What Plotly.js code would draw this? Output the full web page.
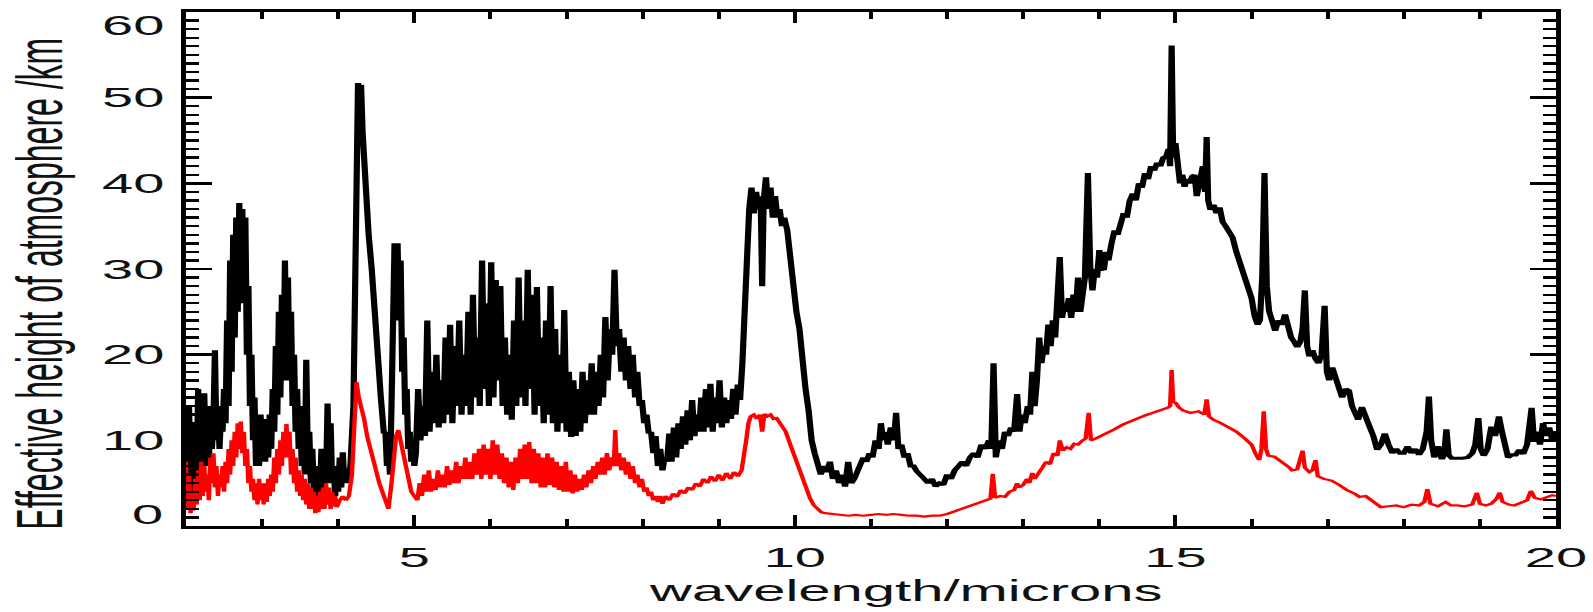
<!DOCTYPE html>
<html>
<head>
<meta charset="utf-8">
<script src="https://cdn.plot.ly/plotly-3.0.1.min.js"></script>
<style>
  html, body { margin: 0; padding: 0; background: #fff; overflow: hidden; }
  /* the figure is laid out at half width and widened 2x, which gives the
     wide, stretched lettering and thick vertical strokes of the original plot */
  #chart { width: 797px; height: 612px; transform: scaleX(2); transform-origin: 0 0; }
</style>
</head>
<body>
<div id="chart"></div>
<script>
// Black spectrum (upper curve): wavelength in microns, effective height in km
const waveBlack = [
  2.00,2.02,2.04,2.06,2.08,2.10,2.12,2.14,2.16,2.18,2.20,2.22,2.24,2.26,2.28,2.30,2.32,2.34,2.36,2.38,
  2.40,2.42,2.44,2.46,2.48,2.50,2.52,2.54,2.56,2.58,2.60,2.62,2.64,2.66,2.68,2.70,2.72,2.74,2.76,2.78,
  2.80,2.82,2.84,2.86,2.88,2.90,2.92,2.94,2.96,2.98,3.00,3.02,3.04,3.06,3.08,3.10,3.12,3.14,3.16,3.18,
  3.20,3.22,3.24,3.26,3.28,3.30,3.32,3.34,3.36,3.38,3.40,3.42,3.44,3.46,3.48,3.50,3.52,3.54,3.56,3.58,
  3.60,3.62,3.64,3.66,3.68,3.70,3.72,3.74,3.76,3.78,3.80,3.82,3.84,3.86,3.88,3.90,3.92,3.94,3.96,3.98,
  4.00,4.02,4.04,4.06,4.08,4.10,4.12,4.16,4.20,4.22,4.24,4.26,4.28,4.30,4.32,4.34,4.37,4.40,4.44,4.48,
  4.52,4.56,4.60,4.62,4.64,4.66,4.68,4.70,4.72,4.74,4.76,4.78,4.80,4.82,4.84,4.86,4.88,4.90,4.92,4.94,
  4.96,4.98,5.00,5.02,5.05,5.08,5.11,5.14,5.17,5.20,5.23,5.26,5.29,5.32,5.35,5.38,5.41,5.44,5.47,5.50,
  5.53,5.56,5.59,5.62,5.65,5.68,5.71,5.74,5.77,5.80,5.83,5.86,5.89,5.92,5.95,5.98,6.01,6.04,6.07,6.10,
  6.13,6.16,6.19,6.22,6.25,6.28,6.31,6.34,6.37,6.40,6.43,6.46,6.49,6.52,6.55,6.58,6.61,6.64,6.67,6.70,
  6.73,6.76,6.79,6.82,6.85,6.88,6.91,6.94,6.97,7.00,7.03,7.06,7.09,7.12,7.15,7.18,7.21,7.24,7.27,7.30,
  7.33,7.36,7.39,7.42,7.45,7.48,7.51,7.54,7.57,7.60,7.63,7.66,7.69,7.72,7.75,7.78,7.81,7.84,7.87,7.90,
  7.93,7.96,7.99,8.02,8.05,8.08,8.11,8.14,8.17,8.20,8.23,8.26,8.29,8.32,8.35,8.38,8.41,8.44,8.47,8.50,
  8.53,8.56,8.59,8.62,8.65,8.68,8.71,8.74,8.77,8.80,8.83,8.86,8.89,8.92,8.95,8.98,9.01,9.04,9.07,9.10,
  9.13,9.16,9.19,9.22,9.25,9.28,9.31,9.34,9.37,9.40,9.43,9.46,9.49,9.52,9.55,9.57,9.59,9.62,9.65,9.68,
  9.71,9.74,9.77,9.80,9.83,9.86,9.90,9.94,9.98,10.02,10.06,10.10,10.14,10.18,10.22,10.26,10.30,10.34,10.38,10.42,
  10.46,10.50,10.54,10.58,10.62,10.66,10.70,10.74,10.78,10.82,10.86,10.90,10.94,10.98,11.02,11.06,11.10,11.13,11.16,11.19,
  11.22,11.26,11.30,11.33,11.36,11.40,11.44,11.48,11.52,11.56,11.60,11.65,11.70,11.75,11.80,11.85,11.90,11.95,12.00,12.05,
  12.10,12.15,12.20,12.25,12.30,12.35,12.40,12.45,12.50,12.55,12.58,12.61,12.64,12.68,12.72,12.76,12.80,12.84,12.88,12.92,
  12.95,12.98,13.02,13.06,13.09,13.12,13.15,13.18,13.21,13.24,13.27,13.30,13.33,13.36,13.39,13.42,13.45,13.48,13.51,13.54,
  13.57,13.60,13.63,13.66,13.69,13.72,13.75,13.78,13.81,13.85,13.88,13.91,13.94,13.97,14.00,14.03,14.06,14.09,14.12,14.16,
  14.20,14.24,14.28,14.32,14.36,14.40,14.44,14.48,14.52,14.56,14.60,14.64,14.68,14.72,14.76,14.80,14.84,14.88,14.91,14.93,
  14.95,14.97,15.00,15.03,15.06,15.09,15.12,15.15,15.18,15.22,15.25,15.28,15.32,15.36,15.39,15.41,15.43,15.46,15.50,15.54,
  15.58,15.62,15.66,15.70,15.75,15.80,15.85,15.90,15.95,16.00,16.04,16.08,16.11,16.14,16.17,16.20,16.23,16.27,16.31,16.35,
  16.40,16.44,16.48,16.52,16.56,16.60,16.64,16.67,16.70,16.73,16.76,16.80,16.84,16.88,16.92,16.96,16.99,17.02,17.06,17.10,
  17.14,17.19,17.24,17.28,17.32,17.36,17.40,17.45,17.50,17.55,17.60,17.65,17.70,17.75,17.80,17.85,17.90,17.95,18.00,18.05,
  18.10,18.15,18.20,18.25,18.30,18.33,18.36,18.40,18.45,18.50,18.53,18.56,18.59,18.63,18.70,18.77,18.84,18.90,18.94,18.98,
  19.01,19.05,19.10,19.15,19.20,19.25,19.29,19.33,19.37,19.42,19.47,19.52,19.57,19.62,19.65,19.68,19.71,19.75,19.79,19.83,
  19.87,19.91,19.95,20.00
];
const heightBlack = [
  8,4,14,5,9,3.5,12,6,16,7,10,5,15.5,8,12,7,14,9,12,20.5,
  10,14,9,13,11,16,12,24,14,31,18,34,22,36,25,37.7,28,37,26,36,
  20,28,14,20,10,15,7,12,7,13,8,12.5,7.5,12,8,13,9,16,11,21,
  13,25,15,27,17,31,19,29,17,25,14,20,11,16,9,14,7,12,6,19.4,
  8,11,5,9,4,7,3,6,4,9,4,9,5,14.3,6,12,5,7,3.5,6,
  4,8,4.5,8.6,5,6,5,7,14,30,45,51.7,48,51.5,46,42,38,34,30,26,
  20,15,10.8,11,7,9,6,14,25,33,28,33,24,31,18,22,13,16,9,11,
  7.5,9,7,8.5,16,10,14,10.5,24,11,18,12,20,11.5,17,12,22,13,23.5,12,
  21,14,24,13,20,14,25,13,27,15,22,14,31,16,26,14,30.8,15,28.7,17,
  28,14,22,13,20,12.4,24,14,29,15,24,14,29.9,16,27,13,27.9,14,22,12,
  24,13,28,12,23,11,20,12,25.2,11,18,10.4,17,10.5,16,11,18,12,17,13,
  19,13,18,14,20,15,24.4,17,23,20,29.9,21,23,18,22,17,21,16,20,15,
  18,14,14.7,12,13,10.8,11,8.5,10.5,7,9,6.5,8,7.5,10.8,7.5,11.5,8,12,9,
  12.8,9.5,13.5,10,14.7,10.5,13,11,15,11,16,11.5,16.6,11,15,12,17,11.5,15,12,
  14.7,12.5,16,13,16.5,14.7,19,26,32,37,39.5,36.5,39,37,38.5,28,38,40.7,37,39.5,
  36,38.5,36,37,35,36,34.5,31,27,25,23,19,16,13.5,10,8.5,7,6,7,6.3,
  7.5,5.5,6.5,5,6,4.6,7.5,5,5.5,6.5,7,8,7.5,8.5,8,10,9,12,10,11,
  9.5,11.5,10,13.2,9,9.5,8,8.5,7,7,6.4,6,5.5,5,5.5,4.6,5,4.8,6,5.5,
  6.5,7,7.5,7,8,8.5,8,9.5,9,10,9,19,8,10,9,11,10.5,11.5,11,15.4,
  11,13,12,14,13,18,14,17,22,19,21,20,23.5,21,24,22,26,31.4,24.3,26,
  25,26.6,24.3,27,25,29,25,27,29,41.2,30.3,27.5,30,29,32.2,30,29.9,32,31,33,
  34.5,34,35.5,36.5,36,38,38.8,38,40,39.5,41.2,40.5,42,41.5,42.4,42,43,43.2,44,42,
  56.1,43,44.7,41.6,40,41,39.6,40.5,40,40.8,41,38.5,40,42,39,45.4,38,36.9,37.5,36.5,
  37.2,35.5,35,34.5,33.7,32,30.6,29,27.5,26.6,24.5,23.5,24,29,41.2,28,25.1,24,22.8,24,
  23.5,24.7,23,22,21.5,20.9,21.5,23,27.5,21,19.8,20.5,19.5,19,20,25.7,18,17,18.5,17.5,
  16,15,16,15.8,14,13,12.4,13.9,12.5,11.6,10.5,8.9,9.5,10.8,9.5,8.5,9,8.5,8.5,9.3,
  8.5,9,8.3,9,11,15.1,10,8,9.3,7.8,8.3,11.3,8.3,7.9,7.9,7.9,8,8.5,9.5,12.6,
  9,8.2,9,11.6,10.5,12.8,11,9,8,8.3,8.3,8.9,8.4,9.5,12,13.8,10,11,9.5,12,
  10.5,11.5,10,11
];

// Red spectrum (lower curve)
const waveRed = [
  2.00,2.02,2.04,2.06,2.08,2.10,2.12,2.14,2.16,2.18,2.20,2.22,2.24,2.26,2.28,2.30,2.32,2.34,2.36,2.38,
  2.40,2.42,2.44,2.46,2.48,2.50,2.52,2.54,2.56,2.58,2.60,2.62,2.64,2.66,2.68,2.70,2.72,2.74,2.76,2.78,
  2.80,2.82,2.84,2.86,2.88,2.90,2.92,2.94,2.96,2.98,3.00,3.02,3.04,3.06,3.08,3.10,3.12,3.14,3.16,3.18,
  3.20,3.22,3.24,3.26,3.28,3.30,3.32,3.34,3.36,3.38,3.40,3.42,3.44,3.46,3.48,3.50,3.52,3.54,3.56,3.58,
  3.60,3.62,3.64,3.66,3.68,3.70,3.72,3.74,3.76,3.78,3.80,3.82,3.84,3.86,3.88,3.90,3.92,3.94,3.96,3.98,
  4.02,4.06,4.10,4.14,4.18,4.21,4.24,4.27,4.30,4.34,4.38,4.42,4.46,4.50,4.54,4.58,4.62,4.66,4.70,4.73,
  4.76,4.79,4.82,4.85,4.88,4.92,4.96,5.00,5.04,5.07,5.10,5.13,5.16,5.19,5.22,5.25,5.28,5.31,5.34,5.37,
  5.40,5.43,5.46,5.49,5.52,5.55,5.58,5.61,5.64,5.67,5.70,5.73,5.76,5.79,5.82,5.85,5.88,5.91,5.94,5.97,
  6.00,6.03,6.06,6.09,6.12,6.15,6.18,6.21,6.24,6.27,6.30,6.33,6.36,6.39,6.42,6.45,6.48,6.51,6.54,6.57,
  6.60,6.63,6.66,6.69,6.72,6.75,6.78,6.81,6.84,6.87,6.90,6.93,6.96,6.99,7.02,7.05,7.08,7.11,7.14,7.17,
  7.20,7.23,7.26,7.29,7.32,7.35,7.38,7.41,7.44,7.47,7.50,7.53,7.56,7.59,7.62,7.64,7.66,7.69,7.72,7.75,
  7.78,7.81,7.84,7.87,7.90,7.93,7.96,7.99,8.02,8.05,8.08,8.11,8.14,8.17,8.20,8.23,8.26,8.30,8.35,8.40,
  8.45,8.50,8.55,8.60,8.65,8.70,8.75,8.80,8.85,8.90,8.95,9.00,9.05,9.10,9.15,9.20,9.25,9.30,9.33,9.36,
  9.39,9.42,9.46,9.50,9.54,9.57,9.60,9.64,9.68,9.72,9.76,9.80,9.84,9.88,9.92,9.96,10.00,10.04,10.08,10.12,
  10.16,10.20,10.25,10.30,10.35,10.40,10.50,10.60,10.70,10.80,10.90,11.00,11.10,11.20,11.30,11.40,11.50,11.60,11.70,11.80,
  11.90,12.00,12.10,12.20,12.30,12.40,12.50,12.57,12.60,12.63,12.70,12.76,12.82,12.88,12.92,12.95,13.00,13.05,13.08,13.12,
  13.15,13.20,13.25,13.30,13.35,13.40,13.45,13.48,13.52,13.57,13.62,13.67,13.72,13.78,13.82,13.86,13.89,13.95,14.00,14.10,
  14.20,14.30,14.40,14.50,14.60,14.70,14.80,14.90,14.93,14.95,14.97,15.00,15.05,15.10,15.20,15.30,15.38,15.41,15.44,15.50,
  15.60,15.70,15.80,15.90,16.00,16.05,16.10,16.13,16.16,16.19,16.22,16.30,16.40,16.50,16.53,16.60,16.67,16.70,16.76,16.80,
  16.84,16.87,16.95,17.05,17.15,17.25,17.35,17.42,17.50,17.60,17.70,17.80,17.90,18.00,18.10,18.20,18.27,18.31,18.35,18.45,
  18.55,18.62,18.70,18.80,18.90,18.96,19.00,19.08,19.15,19.22,19.26,19.30,19.38,19.45,19.55,19.62,19.67,19.72,19.80,19.88,
  19.95,20.00
];
const heightRed = [
  7.5,2,6,1.5,4,1.8,5.5,2.5,6.5,3,7.5,3.5,7,4,6,3,8,5,8.5,4.5,
  7,3.5,6,4.5,7,4,7.5,5,9,6,10,7,11,8,12,9,12.2,8.5,11,7,
  9,5,7,4,5.5,3,5,2.5,5.5,3,5,2.5,5,2.8,5.5,3.5,6,4,8,5,
  9,6,10,7,11,8,11.9,8,11,6,9,5,8,4,6.5,3.5,6,3,5.5,2.5,
  5,2,4.5,2,4,1.5,3.5,1.6,4,2,4.5,2,5,2.5,4.5,2,4,2.3,3.5,2.2,
  3,3.5,3,3.5,6,12,16.8,15,14,12.5,10.5,9,7.5,6.5,5,4,3,2,5,9,
  10.5,11.2,10,8.5,7,5.5,4,3.5,3,5,3.5,6,4,6.5,4,5.5,4.2,6.5,4.5,6,
  4.5,7,4.8,6.5,5,7.5,5,7,5.5,8,5.5,7.5,5.5,8.5,6,9,5.5,9.5,6,9,
  5.5,10,6,9.5,5.5,8.5,5,8,4.5,7.5,4.2,8,5,9,5.5,9.5,5.5,9.8,5,9,
  5,8.5,4.5,8,4.5,8.5,4.8,8,4.5,7.5,4.2,7,4,7.5,4,6.5,3.8,6,4,5.5,
  4.2,6,4.5,6.5,5,7,5.5,7.5,6,8,6,8.5,6.5,8,7,11.2,7,8.5,6.5,8,
  6,7.5,5.5,7,5,6,4.5,5.5,4,4.5,3.5,4,3,3.5,2.8,3.5,2.6,3.5,3,3.8,
  3.4,4.2,3.8,4.5,4.2,5,4.6,5.5,5,5.8,5.2,6,5.3,6.2,5.5,6.3,5.8,6.5,8,10,
  12,12.8,13,12.5,13,11,13.1,12.8,13,12.5,12.6,12,11.5,11,10,9,8,7,6,5,
  4,3.2,2.4,1.9,1.6,1.5,1.4,1.3,1.2,1.3,1.2,1.3,1.4,1.3,1.4,1.3,1.2,1.2,1.1,1.2,
  1.2,1.4,1.7,2.0,2.3,2.6,3.0,3.2,6.1,3.3,3.5,3.4,4,4.2,5,4.5,4.8,5.5,5,6.2,
  5.5,6.3,6.8,7.5,7.2,8.5,8.2,10,8.8,9.2,9,9.6,9.5,10,10.2,13.2,10,10.2,10.4,10.8,
  11.3,11.8,12.2,12.6,12.9,13.2,13.5,13.8,14,18.2,14.5,14.4,13.8,13.5,13.2,13.4,13,14.8,12.8,12.4,
  12,11.5,11,10.3,9.5,8.5,7.7,9,13.4,9,8.2,8.1,7.5,6.8,6.5,6.6,8.8,6.8,6.3,6.5,
  7.7,5.8,5.5,5.3,4.8,4.2,3.8,3.4,3.5,2.8,2.2,2.3,2.4,2.2,2.5,2.4,2.8,4.3,2.6,2.3,
  2.8,2.4,2.4,2.3,2.5,3.9,2.6,2.4,2.6,3.2,3.9,2.8,2.5,2.4,2.7,3.0,4.1,3.3,3.1,3.4,
  3.6,3.5
];

// Axis labelling
const yTickValues = [0, 10, 20, 30, 40, 50, 60];
const yTickText = ['0', '10', '20', '30', '40', '50', '60'];
const xTickValues = [5, 10, 15, 20];
const xTickText = ['5', '10', '15', '20'];
const xTitle = 'wavelength/microns';
const yTitle = 'Effective height of atmosphere /km';

const FONT = 'Liberation Sans, Arial, Helvetica, sans-serif';

const traces = [
  { x: waveBlack, y: heightBlack, type: 'scatter', mode: 'lines',
    line: { color: '#000000', width: 3.1 }, hoverinfo: 'skip' },
  { x: waveRed, y: heightRed, type: 'scatter', mode: 'lines',
    line: { color: '#ff0000', width: 2.2 }, hoverinfo: 'skip' }
];

// y tick labels: end labels are kept inside the frame, the rest are centred on their tick
const annotations = yTickValues.map((v, i) => ({
  x: 0, xref: 'paper', y: v, yref: 'y',
  text: yTickText[i], showarrow: false,
  xanchor: 'right', xshift: -9,
  yanchor: i === 0 ? 'bottom' : (i === yTickValues.length - 1 ? 'top' : 'middle'),
  yshift: i === 0 ? -6 : (i === yTickValues.length - 1 ? 4 : 0),
  font: { family: FONT, size: 28, color: '#111' }
}));
annotations.push({
  x: 0.525, xref: 'paper', y: -0.127, yref: 'paper',
  text: xTitle, showarrow: false, xanchor: 'center', yanchor: 'middle',
  font: { family: FONT, size: 29, color: '#111' }
});
annotations.push({
  x: -0.106, xref: 'paper', y: 0.472, yref: 'paper',
  text: yTitle, showarrow: false, textangle: -90, xanchor: 'center', yanchor: 'middle',
  font: { family: FONT, size: 32, color: '#111' }
});

const layout = {
  width: 797, height: 612,
  margin: { l: 92.7, r: 18.5, t: 12.3, b: 85.5, pad: 0 },
  paper_bgcolor: '#ffffff', plot_bgcolor: '#ffffff',
  showlegend: false,
  xaxis: {
    range: [2, 20], tickvals: xTickValues, ticktext: xTickText,
    ticks: 'inside', ticklen: 11, tickwidth: 2, tickcolor: '#000',
    minor: { dtick: 1, tick0: 0, ticks: 'inside', ticklen: 7, tickwidth: 2, tickcolor: '#000' },
    showline: true, linecolor: '#000', linewidth: 2.6, mirror: 'ticks',
    showgrid: false, zeroline: false,
    tickfont: { family: FONT, size: 28, color: '#111' },
    ticklabelstandoff: 5
  },
  yaxis: {
    range: [0, 60], tickvals: yTickValues,
    ticks: 'inside', ticklen: 13, tickwidth: 2.4, tickcolor: '#000',
    minor: { dtick: 1, tick0: 0, ticks: 'inside', ticklen: 6.5, tickwidth: 2.4, tickcolor: '#000' },
    showline: true, linecolor: '#000', linewidth: 2.6, mirror: 'ticks',
    showgrid: false, zeroline: false, showticklabels: false
  },
  annotations: annotations
};

Plotly.newPlot('chart', traces, layout, { staticPlot: true, displayModeBar: false });
</script>
</body>
</html>
